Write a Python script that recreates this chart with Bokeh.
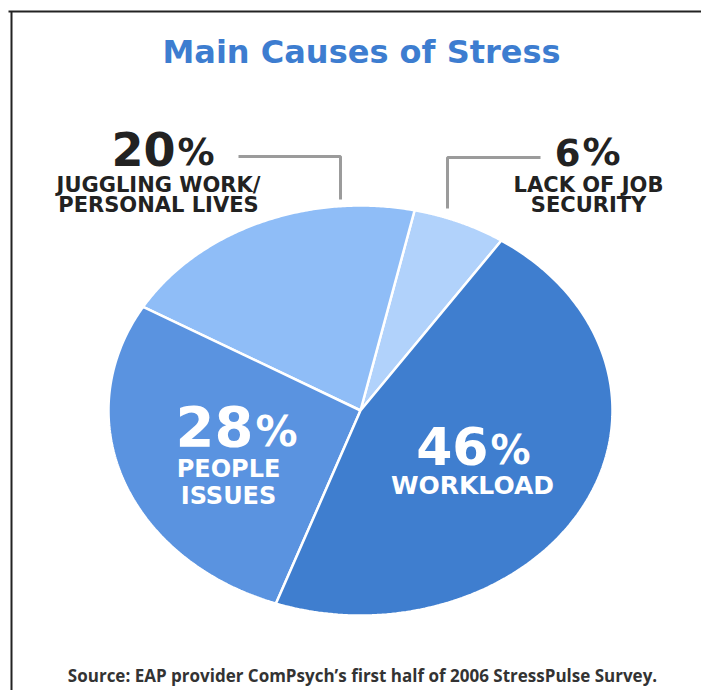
import numpy as np
from bokeh.plotting import figure
from bokeh.models import Range1d, ColumnDataSource
from bokeh.core.properties import value
from bokeh.embed import file_html
from bokeh.resources import INLINE

# ---- data ----
title_text = "Main Causes of Stress"
source_text = "Source: EAP provider ComPsych\u2019s first half of 2006 StressPulse Survey."
causes = ["LACK OF JOB SECURITY", "JUGGLING WORK/PERSONAL LIVES", "PEOPLE ISSUES", "WORKLOAD"]
shares = [6, 20, 28, 46]
label_lines = [["LACK OF JOB", "SECURITY"], ["JUGGLING WORK/", "PERSONAL LIVES"], ["PEOPLE", "ISSUES"], ["WORKLOAD"]]
slice_colors = ["#b1d2fb", "#8fbdf7", "#5a93e0", "#3f7ecf"]

# ---- layout / style ----
W, H = 701, 690
cx, cy, rx, ry = 360, 410, 252, 205
start_deg = 56.0
K = 0.38  # baseline correction factor for the svg text renderer


def by(y, size):
    return y - K * size


num_split_x = [580, 175, 253, 488]
num_base_y = [166, 166, 447, 465]
num_sizes = [37, 46, 56, 52]
pct_sizes = [38, 37, 42, 40]
text_colors = ["#222222", "#222222", "#ffffff", "#ffffff"]
line_center_x = [588, 158, 228, 472]
line_base_y = [[192, 212], [192, 212], [478, 505], [494]]
line_sizes = [21, 21, 24, 25]

p = figure(width=W, height=H, x_range=Range1d(0, W), y_range=Range1d(H, 0),
           output_backend="svg", toolbar_location=None, min_border=0)
p.xaxis.visible = False
p.yaxis.visible = False
p.xgrid.visible = False
p.ygrid.visible = False
p.outline_line_color = None
p.background_fill_color = "white"
p.border_fill_color = "white"

# frame (top + left)
p.line([8, W], [11, 11], line_color="#222222", line_width=2)
p.line([11, 11], [11, H], line_color="#222222", line_width=2)

# pie slices (elliptical, computed from shares)
cum = np.concatenate([[0], np.cumsum(shares)]) / 100.0 * 360.0 + start_deg
xs, ys = [], []
for a0, a1 in zip(cum[:-1], cum[1:]):
    t = np.radians(np.linspace(a0, a1, 150))
    xs.append([cx] + list(cx + rx * np.cos(t)))
    ys.append([cy] + list(cy - ry * np.sin(t)))
src = ColumnDataSource(dict(xs=xs, ys=ys, color=slice_colors, cause=causes))
p.patches("xs", "ys", source=src, fill_color="color", line_color="white", line_width=2.5)

# leader lines
p.line([238, 340, 340], [156, 156, 199], line_color="#9b9b9b", line_width=3)
p.line([540, 447, 447], [157, 157, 208], line_color="#9b9b9b", line_width=3)

# title
p.text([361], [by(64, 32)], text=[title_text], text_align="center", text_baseline="alphabetic",
       text_font=value("DejaVu Sans"), text_font_style="bold", text_font_size="32px",
       text_color="#3d7dd0")

# numbers and labels
for i, s in enumerate(shares):
    p.text([num_split_x[i]], [by(num_base_y[i], num_sizes[i])], text=[str(s)], text_align="right",
           text_baseline="alphabetic", text_font=value("DejaVu Sans"), text_font_style="bold",
           text_font_size=f"{num_sizes[i]}px", text_color=text_colors[i])
    p.text([num_split_x[i] + 2], [by(num_base_y[i], pct_sizes[i])], text=["%"], text_align="left",
           text_baseline="alphabetic", text_font=value("DejaVu Sans"), text_font_style="bold",
           text_font_size=f"{pct_sizes[i]}px", text_color=text_colors[i])
    for ln, yb in zip(label_lines[i], line_base_y[i]):
        p.text([line_center_x[i]], [by(yb, line_sizes[i])], text=[ln], text_align="center",
               text_baseline="alphabetic", text_font=value("DejaVu Sans"), text_font_style="bold",
               text_font_size=f"{line_sizes[i]}px", text_color=text_colors[i])

# source
p.text([362], [by(681, 17)], text=[source_text], text_align="center", text_baseline="alphabetic",
       text_font=value("Open Sans"), text_font_style="bold", text_font_size="17px",
       text_color="#333333")

open("out.html", "w").write(file_html(p, INLINE))
